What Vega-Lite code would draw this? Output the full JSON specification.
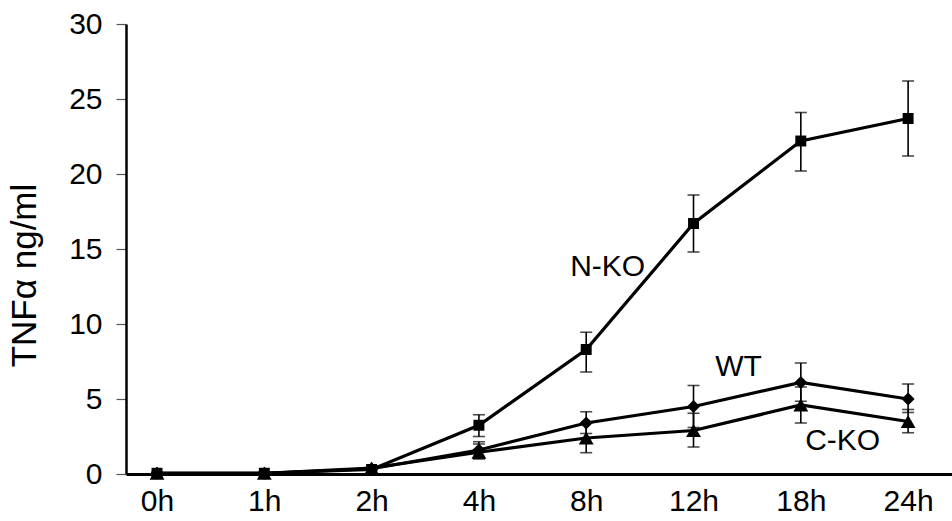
{
  "$schema": "https://vega.github.io/schema/vega-lite/v6.json",
  "autosize": {"type": "none"},
  "padding": {"left": 126, "top": 24, "right": 0, "bottom": 47},
  "width": 826,
  "height": 450,
  "background": "white",
  "config": {
    "view": {"stroke": null},
    "font": "Liberation Sans",
    "axis": {"labelFont": "Liberation Sans", "titleFont": "Liberation Sans", "labelColor": "black", "titleColor": "black", "grid": false}
  },
  "datasets": {
    "pts": [
      {"series": "N-KO", "t": 0, "v": 0.05, "lo": 0.0, "hi": 0.1},
      {"series": "N-KO", "t": 1, "v": 0.05, "lo": 0.0, "hi": 0.1},
      {"series": "N-KO", "t": 2, "v": 0.3, "lo": 0.25, "hi": 0.35},
      {"series": "N-KO", "t": 3, "v": 3.25, "lo": 2.5, "hi": 3.95},
      {"series": "N-KO", "t": 4, "v": 8.3, "lo": 6.8, "hi": 9.45},
      {"series": "N-KO", "t": 5, "v": 16.7, "lo": 14.8, "hi": 18.6},
      {"series": "N-KO", "t": 6, "v": 22.2, "lo": 20.2, "hi": 24.1},
      {"series": "N-KO", "t": 7, "v": 23.7, "lo": 21.2, "hi": 26.2},
      {"series": "WT", "t": 0, "v": 0.05, "lo": 0.0, "hi": 0.1},
      {"series": "WT", "t": 1, "v": 0.05, "lo": 0.0, "hi": 0.1},
      {"series": "WT", "t": 2, "v": 0.35, "lo": 0.3, "hi": 0.4},
      {"series": "WT", "t": 3, "v": 1.6, "lo": 1.05, "hi": 2.15},
      {"series": "WT", "t": 4, "v": 3.4, "lo": 2.7, "hi": 4.15},
      {"series": "WT", "t": 5, "v": 4.5, "lo": 3.1, "hi": 5.9},
      {"series": "WT", "t": 6, "v": 6.1, "lo": 4.85, "hi": 7.4},
      {"series": "WT", "t": 7, "v": 5.0, "lo": 4.1, "hi": 6.0},
      {"series": "C-KO", "t": 0, "v": 0.05, "lo": 0.0, "hi": 0.1},
      {"series": "C-KO", "t": 1, "v": 0.05, "lo": 0.0, "hi": 0.1},
      {"series": "C-KO", "t": 2, "v": 0.4, "lo": 0.35, "hi": 0.45},
      {"series": "C-KO", "t": 3, "v": 1.45, "lo": 1.0, "hi": 2.0},
      {"series": "C-KO", "t": 4, "v": 2.4, "lo": 1.42, "hi": 3.4},
      {"series": "C-KO", "t": 5, "v": 2.9, "lo": 1.8, "hi": 4.05},
      {"series": "C-KO", "t": 6, "v": 4.6, "lo": 3.4, "hi": 5.8},
      {"series": "C-KO", "t": 7, "v": 3.5, "lo": 2.75, "hi": 4.3}
    ],
    "labels": [
      {"name": "N-KO", "t": 4.2, "v": 13.8},
      {"name": "WT", "t": 5.42, "v": 7.15},
      {"name": "C-KO", "t": 6.39, "v": 2.23}
    ]
  },
  "data": {"name": "pts"},
  "encoding": {
    "x": {
      "field": "t", "type": "quantitative",
      "scale": {"domain": [-0.289, 7.409], "nice": false, "zero": false},
      "axis": {
        "values": [0, 1, 2, 3, 4, 5, 6, 7],
        "labelExpr": "['0h','1h','2h','4h','8h','12h','18h','24h'][datum.value]",
        "ticks": false,
        "domainColor": "black",
        "domainWidth": 3,
        "labelFontSize": 30,
        "labelPadding": 12,
        "title": null
      }
    },
    "y": {
      "field": "v", "type": "quantitative",
      "scale": {"domain": [0, 30], "nice": false},
      "axis": {
        "values": [0, 5, 10, 15, 20, 25, 30],
        "domainColor": "black",
        "domainWidth": 2.5,
        "tickColor": "#555555",
        "tickWidth": 1.2,
        "tickSize": 10,
        "labelFontSize": 30,
        "labelPadding": 14,
        "title": "TNFα ng/ml",
        "titleFontSize": 35,
        "titleFontWeight": "normal",
        "titleX": -91,
        "titleY": 251,
        "titleBaseline": "alphabetic"
      }
    }
  },
  "layer": [
    {
      "mark": {"type": "rule", "color": "black", "strokeWidth": 1.6},
      "encoding": {"y": {"field": "lo", "type": "quantitative"}, "y2": {"field": "hi"}}
    },
    {
      "mark": {"type": "tick", "orient": "horizontal", "color": "black", "size": 12, "thickness": 1.6},
      "encoding": {"y": {"field": "lo", "type": "quantitative"}}
    },
    {
      "mark": {"type": "tick", "orient": "horizontal", "color": "black", "size": 12, "thickness": 1.6},
      "encoding": {"y": {"field": "hi", "type": "quantitative"}}
    },
    {
      "mark": {"type": "line", "color": "black", "strokeWidth": 3.2},
      "encoding": {"detail": {"field": "series"}}
    },
    {
      "mark": {"type": "point", "filled": true, "color": "black", "opacity": 1},
      "encoding": {
        "shape": {"field": "series", "type": "nominal", "scale": {"domain": ["N-KO", "WT", "C-KO"], "range": ["square", "diamond", "triangle-up"]}, "legend": null},
        "size": {"field": "series", "type": "nominal", "scale": {"domain": ["N-KO", "WT", "C-KO"], "range": [120, 220, 180]}, "legend": null}
      }
    },
    {
      "data": {"name": "labels"},
      "mark": {"type": "text", "fontSize": 30, "font": "Liberation Sans", "color": "black", "align": "center", "baseline": "middle"},
      "encoding": {"text": {"field": "name"}}
    }
  ]
}
